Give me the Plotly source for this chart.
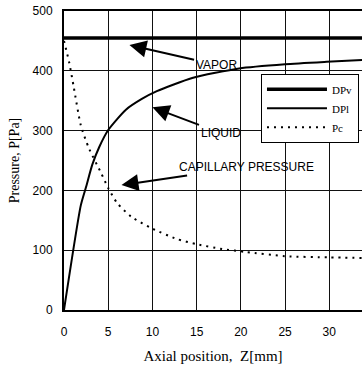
import plotly.graph_objects as go

# Axial position [mm] and pressure profiles [Pa]
z_vapor = [0, 5, 10, 15, 20, 25, 30, 33.7]
dp_vapor = [455, 455, 455, 455, 455, 455, 455, 455]

z_liquid = [0, 1.9, 2.5, 3.2, 4.0, 5.0, 7.0, 8.8, 10.5, 14.5, 19.8, 25.0, 29.7, 33.7]
dp_liquid = [0, 175, 206, 243, 273, 301, 335, 353, 366, 388, 404, 411, 415, 418]

z_cap = [0, 0.6, 1.1, 1.9, 2.8, 4.2, 5.0, 6.0, 7.6, 10.0, 12.7, 15.0, 17.9, 20.6, 25.0, 30.0, 33.7]
p_cap = [450, 413, 373, 309, 271, 229, 204, 179, 156, 136, 119, 110, 102, 97, 90, 88, 87]

x_ticks = [0, 5, 10, 15, 20, 25, 30]
y_ticks = [0, 100, 200, 300, 400, 500]

fig = go.Figure()
fig.add_trace(go.Scatter(x=z_vapor, y=dp_vapor, mode="lines", name="DPv",
                         line=dict(color="black", width=3.5)))
fig.add_trace(go.Scatter(x=z_liquid, y=dp_liquid, mode="lines", name="DPl",
                         line=dict(color="black", width=2, shape="spline", smoothing=0.6)))
fig.add_trace(go.Scatter(x=z_cap, y=p_cap, mode="lines", name="Pc",
                         line=dict(color="black", width=2, dash="2px,5px",
                                   shape="spline", smoothing=0.6)))

arrow = dict(showarrow=True, arrowhead=2, arrowsize=1.7, arrowwidth=2,
             arrowcolor="black", axref="x", ayref="y", xref="x", yref="y",
             font=dict(family="Liberation Sans, Arial", size=12, color="black"))
fig.add_annotation(text="VAPOR", x=7.4, y=443, ax=17.2, ay=410, **arrow)
fig.add_annotation(text="LIQUID", x=10.0, y=339, ax=17.7, ay=296, **arrow)
fig.add_annotation(text="CAPILLARY PRESSURE", x=6.5, y=209, ax=20.6, ay=239, **arrow)

tick_font = dict(family="Liberation Sans, Arial", size=12, color="black")
fig.update_xaxes(range=[0, 33.7], tickvals=x_ticks, showgrid=True, gridcolor="#111",
                 gridwidth=1, showline=True, linecolor="black", linewidth=2,
                 mirror=True, ticks="", zeroline=False, ticklabelstandoff=10,
                 tickfont=tick_font,
                 title=dict(text="Axial position,  Z[mm]", standoff=12,
                            font=dict(family="Liberation Serif, Times New Roman",
                                      size=15, color="black")))
fig.update_yaxes(range=[0, 500], tickvals=y_ticks, showgrid=True, gridcolor="#111",
                 gridwidth=1, showline=True, linecolor="black", linewidth=2,
                 ticks="", zeroline=False, ticklabelstandoff=7,
                 tickfont=tick_font,
                 title=dict(text="Pressure, P[Pa]", standoff=10,
                            font=dict(family="Liberation Serif, Times New Roman",
                                      size=14, color="black")))

fig.update_layout(
    width=362, height=372,
    margin=dict(l=64, r=0, t=11, b=62),
    paper_bgcolor="white", plot_bgcolor="white",
    legend=dict(x=0.661, y=0.79, xanchor="left", yanchor="top",
                bgcolor="white", bordercolor="black", borderwidth=1,
                font=dict(family="Liberation Serif, Times New Roman", size=11,
                          color="black"),
                itemwidth=60, tracegroupgap=0),
)

fig.write_html("out.html")
